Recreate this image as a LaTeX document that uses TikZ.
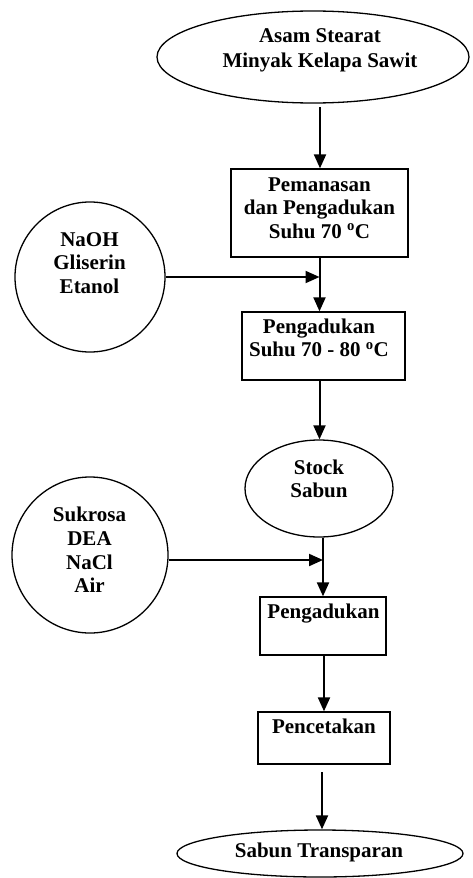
\documentclass[tikz,border=0pt]{standalone}
\usepackage{fontspec}
\setmainfont{Liberation Serif}
\usetikzlibrary{arrows.meta,shapes.geometric}
\begin{document}
\begin{tikzpicture}[x=1pt,y=-1pt,
  every node/.style={inner sep=0pt},
  txt/.style={font=\fontsize{21}{23.6}\selectfont\bfseries, align=center},
  oval/.style={draw, ellipse, line width=1.3pt},
  rnd/.style={draw, circle, line width=1.3pt},
  boxnode/.style={draw, rectangle, line width=1.3pt},
  flow/.style={line width=2pt, -{Triangle[width=12pt,length=14pt]}}]
\useasboundingbox (0,0) rectangle (473,878);
\node[oval, minimum width=312pt, minimum height=92pt] (top) at (313,57) {};
\node[txt, font=\fontsize{21}{25}\selectfont\bfseries] (t0) at (320,50) {Asam Stearat\\Minyak Kelapa Sawit};
\node[boxnode, minimum width=177pt, minimum height=88pt] (b1) at (319.5,213) {};
\node[txt] (t1b) at (319.5,208) {Pemanasan\\dan Pengadukan\\Suhu 70 \textsuperscript{o}C};
\node[rnd, minimum size=150pt] (c1) at (90,277) {};
\node[txt] (t1) at (89.5,263) {NaOH\\Gliserin\\Etanol};
\node[boxnode, minimum width=163pt, minimum height=68pt] (b2) at (323.5,346) {};
\node[txt] (t2b) at (319,338) {Pengadukan\\Suhu 70 - 80 \textsuperscript{o}C};
\node[oval, minimum width=148pt, minimum height=97pt] (stock) at (319,488.5) {};
\node[txt] (ts) at (319,479) {Stock\\Sabun};
\node[rnd, minimum size=156pt] (c2) at (90,555) {};
\node[txt] (t2) at (89.5,550) {Sukrosa\\DEA\\NaCl\\Air};
\node[boxnode, minimum width=126pt, minimum height=58pt] (b3) at (323,626) {};
\node[txt, anchor=base] (t3) at (323.5,618) {Pengadukan};
\node[boxnode, minimum width=132pt, minimum height=52pt] (b4) at (324,738) {};
\node[txt, anchor=base] (t4) at (324,733) {Pencetakan};
\node[oval, minimum width=286pt, minimum height=47pt] (end) at (320,853.5) {};
\node[txt, anchor=base] (te) at (319,857) {Sabun Transparan};
\coordinate (a1s) at (320,107);
\coordinate (a6s) at (322,772);
\draw[flow] (a1s) -- (a1s |- b1.north);
\draw[flow] (b1.south) -- (b1.south |- b2.north);
\draw[flow] (c1.east) -- (c1.east -| b1.south);
\draw[flow] (b1.south |- b2.south) -- (b1.south |- stock.north);
\draw[flow] (b3.north |- stock.south) -- (b3.north);
\draw[flow] (c2.east |- 0,560) -- (b3.north |- 0,560);
\draw[flow] (b4.north |- b3.south) -- (b4.north);
\draw[flow] (a6s) -- (a6s |- end.north);
\end{tikzpicture}
\end{document}
